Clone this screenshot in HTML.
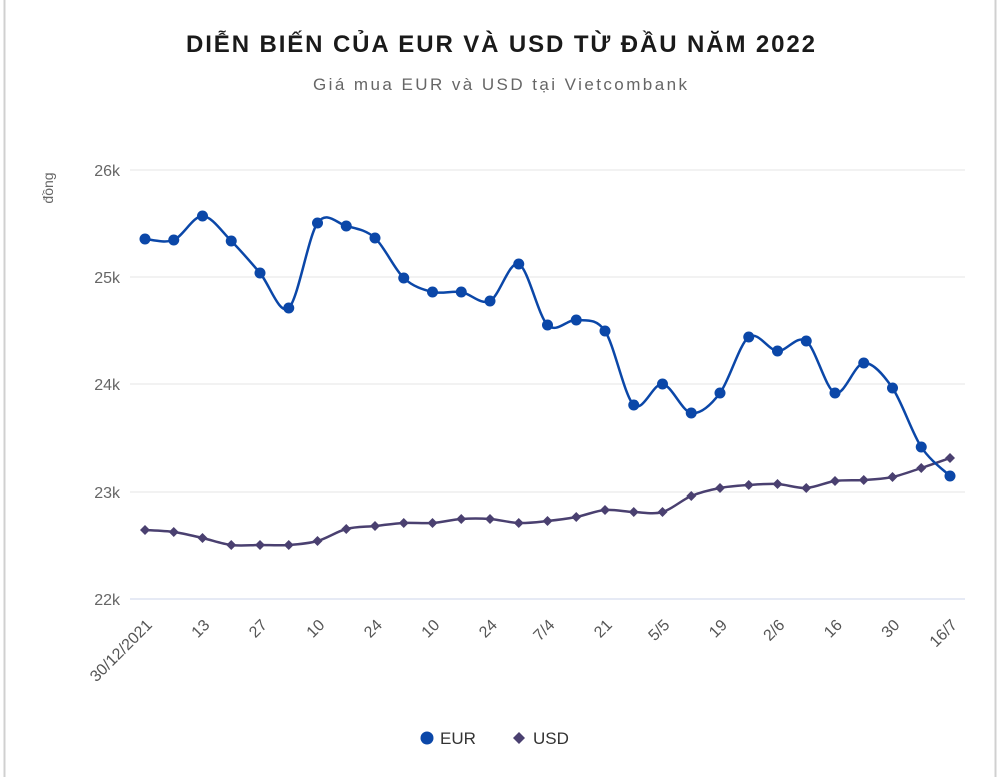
<!DOCTYPE html>
<html><head><meta charset="utf-8"><style>
body{margin:0;background:#fff;}
svg{display:block;font-family:"Liberation Sans",sans-serif;}
</style></head><body>
<svg id="s" width="1000" height="777" viewBox="0 0 1000 777">
<rect x="0" y="0" width="1000" height="777" fill="#fff"/>
<line x1="4.5" y1="0" x2="4.5" y2="777" stroke="#d0d0d0" stroke-width="2"/>
<line x1="995.5" y1="0" x2="995.5" y2="777" stroke="#d0d0d0" stroke-width="2"/>
<text x="186" y="52" font-size="24" font-weight="bold" fill="#1a1a1a" textLength="629" lengthAdjust="spacing">DIỄN BIẾN CỦA EUR VÀ USD TỪ ĐẦU NĂM 2022</text>
<text x="313" y="90" font-size="17" fill="#666" textLength="374" lengthAdjust="spacing">Giá mua EUR và USD tại Vietcombank</text>
<text transform="translate(53,188) rotate(-90)" text-anchor="middle" font-size="14" fill="#666">đồng</text>
<g id="g"></g>
<g font-size="17" fill="#333">
<circle cx="427" cy="738" r="6.5" fill="#0b47a8"/><text x="440" y="744">EUR</text>
<path d="M519 732 L525 738 L519 744 L513 738Z" fill="#4a4070"/><text x="533" y="744">USD</text>
</g>
</svg>
<script>
const g=document.getElementById('g');let h='';
const ys={'26k':170,'25k':277,'24k':384,'23k':492,'22k':599};
for(const k in ys){h+=`<line x1="130" x2="965" y1="${ys[k]}" y2="${ys[k]}" stroke="#e6e6e6"/>`;
h+=`<text x="120" y="${ys[k]+6}" text-anchor="end" font-size="16" fill="#666">${k}</text>`;}
const E=[239,240,216,241,273,308,223,226,238,278,292,292,301,264,325,320,331,405,384,413,393,337,351,341,393,363,388,447,476];
const U=[530,532,538,545,545,545,541,529,526,523,523,519,519,523,521,517,510,512,512,496,488,485,484,488,481,480,477,468,458];
const X=i=>145+i*(805/28);
function path(a){let d=`M${X(0)} ${a[0]}`;for(let i=0;i<a.length-1;i++){const p0=[X(Math.max(i-1,0)),a[Math.max(i-1,0)]],p1=[X(i),a[i]],p2=[X(i+1),a[i+1]],p3=[X(Math.min(i+2,a.length-1)),a[Math.min(i+2,a.length-1)]];const t=0.16;
d+=` C${p1[0]+(p2[0]-p0[0])*t} ${p1[1]+(p2[1]-p0[1])*t} ${p2[0]-(p3[0]-p1[0])*t} ${p2[1]-(p3[1]-p1[1])*t} ${p2[0]} ${p2[1]}`;}return d;}
h+=`<path d="${path(U)}" fill="none" stroke="#4a4070" stroke-width="2.5"/>`;
U.forEach((y,i)=>{const x=X(i);h+=`<path d="M${x} ${y-5} L${x+5} ${y} L${x} ${y+5} L${x-5} ${y}Z" fill="#4a4070"/>`;});
h+=`<path d="${path(E)}" fill="none" stroke="#0b47a8" stroke-width="2.5"/>`;
E.forEach((y,i)=>{h+=`<circle cx="${X(i)}" cy="${y}" r="5.5" fill="#0b47a8"/>`;});
h+=`<line x1="130" x2="965" y1="599" y2="599" stroke="#ccd6eb"/>`;
const L=['30/12/2021','13','27','10','24','10','24','7/4','21','5/5','19','2/6','16','30','16/7'];
L.forEach((l,j)=>{const x=X(j*2)+8,y=626;h+=`<text transform="translate(${x},${y}) rotate(-45)" text-anchor="end" font-size="16" fill="#555">${l}</text>`;});
g.innerHTML=h;
</script>
</body></html>
